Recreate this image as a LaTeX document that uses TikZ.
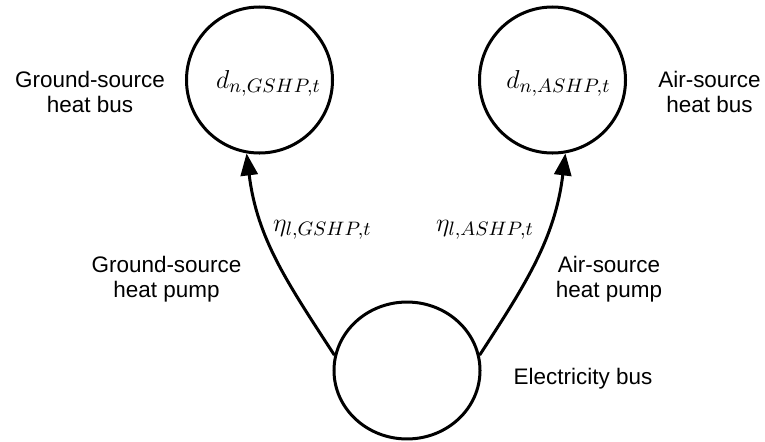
\documentclass[tikz,border=0pt]{standalone}
\usepackage{fontspec}
\setmainfont{Liberation Sans}
\usetikzlibrary{arrows.meta,shapes.geometric}
\begin{document}
\begin{tikzpicture}[x=0.463pt,y=-0.463pt,
  bus/.style={draw, line width=1.39pt, ellipse, inner sep=0pt,
    minimum width=67.6pt, minimum height=67.6pt},
  flow/.style={line width=1.39pt, -{Triangle[length=10.2pt,width=7.9pt]}},
  caption/.style={align=center, inner sep=0pt,
    font=\fontsize{10.4}{11.8}\selectfont},
  var/.style={inner sep=0pt, anchor=base, font=\fontsize{13}{15}\selectfont},
]
\useasboundingbox (0,0) rectangle (765,441);

% buses
\node[bus] (gshp) at (259.5,80) {};
\node[bus] (ashp) at (552.5,80) {};
\node[bus, minimum height=63.4pt] (elec) at (407,370.5) {};

% bus variables
\node[var] (dg) at (268.5,88) {$d_{n,GSHP,t}$};
\node[var] (da) at (558.5,88) {$d_{n,ASHP,t}$};

% heat pump links
\draw[flow] (elec.168) to[out=123,in=-83] (gshp.260);
\draw[flow] (elec.12) to[out=57,in=-97] (ashp.280);

% efficiencies
\node[var] (eg) at (322.5,231) {$\eta_{l,GSHP,t}$};
\node[var] (ea) at (485,231) {$\eta_{l,ASHP,t}$};

% captions
\node[caption] (cgb) at (90,92) {Ground-source\\heat bus};
\node[caption] (cab) at (709.5,92) {Air-source\\heat bus};
\node[caption] (cgp) at (166.5,279) {Ground-source\\heat pump};
\node[caption] (cap) at (609,279) {Air-source\\heat pump};
\node[caption] (ceb) at (583,379) {Electricity bus};
\end{tikzpicture}
\end{document}
